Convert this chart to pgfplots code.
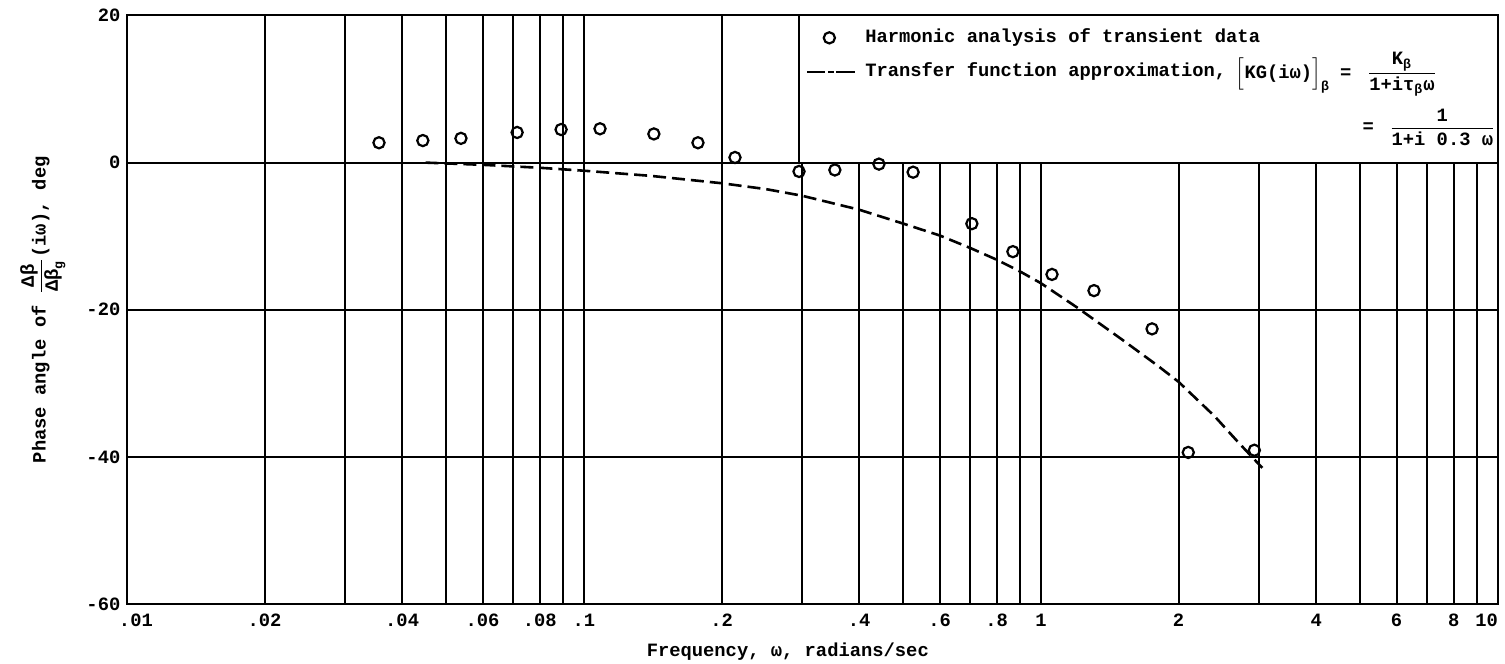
\documentclass[border=0pt]{standalone}
\usepackage{amsmath}
\usepackage{pgfplots}
\pgfplotsset{compat=1.18}
\usepackage{fontspec}
\setmainfont{Liberation Mono}[UprightFont={* Bold},BoldFont={* Bold}]
\begin{document}
\fontsize{9.4pt}{11pt}\selectfont
\begin{tikzpicture}
\begin{axis}[
  xmode=log,
  scale only axis,
  width=685.5pt, height=294.25pt,
  xmin=0.01, xmax=10, ymin=-60, ymax=20,
  xtick={0.01,0.02,0.04,0.06,0.08,0.1,0.2,0.4,0.6,0.8,1,2,4,6,8,10},
  xticklabels={\makebox[0pt][l]{\hspace*{-4pt}.01},.02,.04,.06,.08,.1,.2,.4,.6,.8,1,2,4,6,8,\makebox[0pt][r]{10}},
  minor xtick={0.03,0.05,0.07,0.09,0.3,0.5,0.7,0.9,3,5,7,9},
  ytick={-60,-40,-20,0,20},
  yticklabels={-60,-40,-20,0,20},
  grid=both,
  major grid style={black, line width=1pt},
  minor grid style={black, line width=1pt},
  axis line style={black, line width=1pt},
  major tick length=0pt, minor tick length=0pt,
  tick style={draw=none},
  /pgf/number format/assume math mode=true,
  tick label style={font=\fontsize{9.4pt}{11pt}\selectfont},
  xticklabel style={yshift=-1.5pt},
  xlabel={Frequency, ω, radians/sec},
  xlabel style={at={(axis description cs:0.482,-0.0816)}, anchor=center},
  ylabel={Phase angle of $\dfrac{\text{Δβ}}{\text{Δβ}_{\text{g}}}$(iω), deg},
  ylabel style={at={(axis description cs:-0.0613,0.5)}, anchor=center, rotate=0},
  legend style={at={(rel axis cs:0.4953,0.978)}, anchor=north west, draw=none, fill=none,
    inner sep=0pt, row sep=8pt, column sep=4.5pt,
    nodes={inner sep=0pt, text height=7pt, text depth=2pt},
    font=\fontsize{9.4pt}{11pt}\selectfont},
  legend cell align=left,
]
\addplot[only marks, mark=o, mark size=2.8pt, mark options={line width=1.1pt, black},
  legend image code/.code={\path (0pt,0pt) (24pt,0pt); \draw[black, line width=1.1pt, mark=o, mark size=2.8pt] plot coordinates {(11pt,0pt)};}]
  coordinates {
  (0.0356,2.7) (0.0444,3.0) (0.0538,3.3) (0.0714,4.1) (0.0891,4.5) (0.1084,4.6)
  (0.1422,3.9) (0.1776,2.7) (0.214,0.7) (0.2955,-1.2) (0.354,-1.0) (0.442,-0.2)
  (0.525,-1.3) (0.706,-8.3) (0.868,-12.1) (1.057,-15.2) (1.306,-17.4) (1.75,-22.6)
  (2.10,-39.4) (2.93,-39.1)
  };
\addlegendentry{Harmonic analysis of transient data}
\addplot[black, line width=1.3pt, dash pattern=on 6.5pt off 3pt,
  legend image code/.code={\draw[black, line width=0.9pt, dash pattern=on 9pt off 1.2pt on 3pt off 1.2pt on 12pt] (0pt,0pt) -- (24pt,0pt);}]
  coordinates {
  (0.045,0) (0.06,-0.3) (0.08,-0.7) (0.1,-1.1) (0.14,-1.8) (0.2,-2.8) (0.25,-3.6)
  (0.3,-4.5) (0.4,-6.4) (0.5,-8.3) (0.6,-9.9) (0.7,-11.6) (0.8,-13.2) (0.9,-14.8)
  (1.0,-16.4) (1.2,-19.7) (1.5,-24.0) (1.8,-27.6) (2.0,-29.8) (2.4,-34.5) (2.7,-38.0)
  (3.05,-41.5)
  };
\addlegendentry{Transfer function approximation,}
\draw[line width=1pt, fill=white] (axis cs:0.295,0) rectangle (axis cs:10,20);
\node[anchor=base west, inner sep=0pt] at (rel axis cs:0.8085,0.8935)
  {$\Bigl[\text{KG(iω)}\Bigr]_{\text{β}}\;\;\text{=}\;\;\;\dfrac{\text{K}_{\text{β}}}{\text{1+iτ}_{\text{β}}\text{ω}}$};
\node[anchor=east, inner sep=0pt] at (rel axis cs:0.9985,0.8105)
  {$\text{=}\;\;\;\dfrac{\text{1}}{\text{1+i 0.3 ω}}$};
\end{axis}
\pgfresetboundingbox
\path ([xshift=-63.5pt, yshift=-30pt]current axis.south west) rectangle ([xshift=3.5pt, yshift=7.75pt]current axis.north east);
\end{tikzpicture}
\end{document}
